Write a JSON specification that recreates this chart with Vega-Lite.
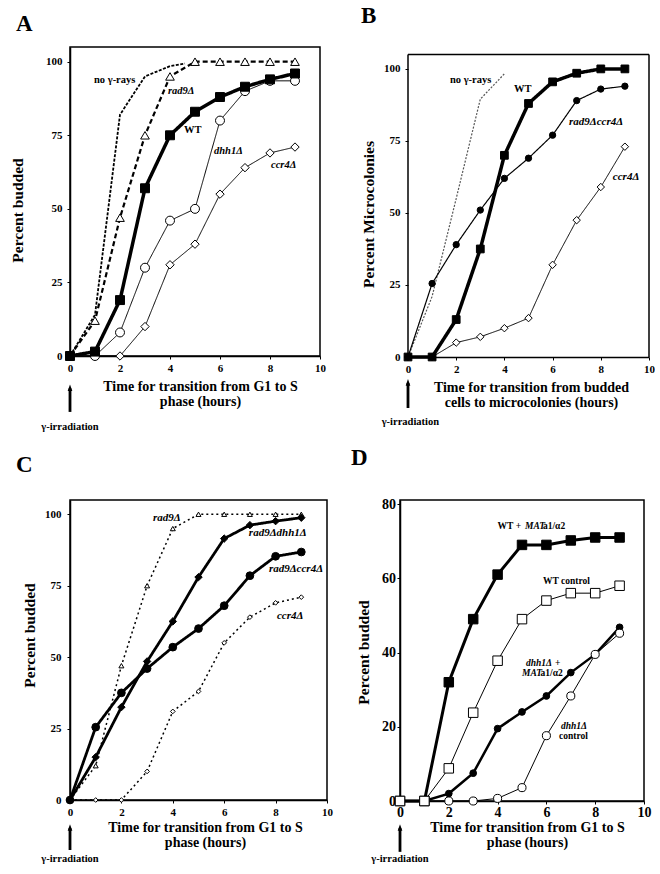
{
  "$schema": "https://vega.github.io/schema/vega-lite/v6.json",
  "background": "white",
  "padding": {"left": 9, "top": 5, "right": 0, "bottom": 0},
  "datasets": {
    "series": [
      {"panel":"A","series":"no γ-rays","t":0,"v":0},{"panel":"A","series":"no γ-rays","t":1,"v":14},{"panel":"A","series":"no γ-rays","t":2,"v":82},{"panel":"A","series":"no γ-rays","t":3,"v":95},{"panel":"A","series":"no γ-rays","t":4,"v":98.5},{"panel":"A","series":"no γ-rays","t":4.6,"v":99.4},
      {"panel":"A","series":"rad9Δ","t":0,"v":0},{"panel":"A","series":"rad9Δ","t":1,"v":12},{"panel":"A","series":"rad9Δ","t":2,"v":47},{"panel":"A","series":"rad9Δ","t":3,"v":75},{"panel":"A","series":"rad9Δ","t":4,"v":95},{"panel":"A","series":"rad9Δ","t":5,"v":100},{"panel":"A","series":"rad9Δ","t":6,"v":100},{"panel":"A","series":"rad9Δ","t":7,"v":100},{"panel":"A","series":"rad9Δ","t":8,"v":100},{"panel":"A","series":"rad9Δ","t":9,"v":100},
      {"panel":"A","series":"ccr4Δ","t":0,"v":0},{"panel":"A","series":"ccr4Δ","t":1,"v":0},{"panel":"A","series":"ccr4Δ","t":2,"v":0},{"panel":"A","series":"ccr4Δ","t":3,"v":10},{"panel":"A","series":"ccr4Δ","t":4,"v":31},{"panel":"A","series":"ccr4Δ","t":5,"v":38},{"panel":"A","series":"ccr4Δ","t":6,"v":55},{"panel":"A","series":"ccr4Δ","t":7,"v":64},{"panel":"A","series":"ccr4Δ","t":8,"v":69},{"panel":"A","series":"ccr4Δ","t":9,"v":71},
      {"panel":"A","series":"dhh1Δ","t":0,"v":0},{"panel":"A","series":"dhh1Δ","t":1,"v":0},{"panel":"A","series":"dhh1Δ","t":2,"v":8},{"panel":"A","series":"dhh1Δ","t":3,"v":30},{"panel":"A","series":"dhh1Δ","t":4,"v":46},{"panel":"A","series":"dhh1Δ","t":5,"v":50},{"panel":"A","series":"dhh1Δ","t":6,"v":80},{"panel":"A","series":"dhh1Δ","t":7,"v":90},{"panel":"A","series":"dhh1Δ","t":8,"v":93.5},{"panel":"A","series":"dhh1Δ","t":9,"v":93.5},
      {"panel":"A","series":"WT","t":0,"v":0},{"panel":"A","series":"WT","t":1,"v":1.5},{"panel":"A","series":"WT","t":2,"v":19},{"panel":"A","series":"WT","t":3,"v":57},{"panel":"A","series":"WT","t":4,"v":75},{"panel":"A","series":"WT","t":5,"v":83},{"panel":"A","series":"WT","t":6,"v":88},{"panel":"A","series":"WT","t":7,"v":91.5},{"panel":"A","series":"WT","t":8,"v":94},{"panel":"A","series":"WT","t":9,"v":96},
      {"panel":"B","series":"no γ-rays","t":0,"v":0},{"panel":"B","series":"no γ-rays","t":1,"v":21},{"panel":"B","series":"no γ-rays","t":2,"v":55},{"panel":"B","series":"no γ-rays","t":3,"v":89.5},{"panel":"B","series":"no γ-rays","t":4,"v":98.3},
      {"panel":"B","series":"ccr4Δ","t":0,"v":0},{"panel":"B","series":"ccr4Δ","t":1,"v":0},{"panel":"B","series":"ccr4Δ","t":2,"v":5},{"panel":"B","series":"ccr4Δ","t":3,"v":7},{"panel":"B","series":"ccr4Δ","t":4,"v":10},{"panel":"B","series":"ccr4Δ","t":5,"v":13.5},{"panel":"B","series":"ccr4Δ","t":6,"v":32},{"panel":"B","series":"ccr4Δ","t":7,"v":47.5},{"panel":"B","series":"ccr4Δ","t":8,"v":59},{"panel":"B","series":"ccr4Δ","t":9,"v":73},
      {"panel":"B","series":"rad9Δccr4Δ","t":0,"v":0},{"panel":"B","series":"rad9Δccr4Δ","t":1,"v":25.5},{"panel":"B","series":"rad9Δccr4Δ","t":2,"v":39},{"panel":"B","series":"rad9Δccr4Δ","t":3,"v":51},{"panel":"B","series":"rad9Δccr4Δ","t":4,"v":62},{"panel":"B","series":"rad9Δccr4Δ","t":5,"v":69},{"panel":"B","series":"rad9Δccr4Δ","t":6,"v":77},{"panel":"B","series":"rad9Δccr4Δ","t":7,"v":89},{"panel":"B","series":"rad9Δccr4Δ","t":8,"v":93},{"panel":"B","series":"rad9Δccr4Δ","t":9,"v":94},
      {"panel":"B","series":"WT","t":0,"v":0},{"panel":"B","series":"WT","t":1,"v":0},{"panel":"B","series":"WT","t":2,"v":13},{"panel":"B","series":"WT","t":3,"v":37.5},{"panel":"B","series":"WT","t":4,"v":70},{"panel":"B","series":"WT","t":5,"v":88},{"panel":"B","series":"WT","t":6,"v":95.5},{"panel":"B","series":"WT","t":7,"v":98.5},{"panel":"B","series":"WT","t":8,"v":100},{"panel":"B","series":"WT","t":9,"v":100},
      {"panel":"C","series":"rad9Δ","t":0,"v":0},{"panel":"C","series":"rad9Δ","t":1,"v":12},{"panel":"C","series":"rad9Δ","t":2,"v":47},{"panel":"C","series":"rad9Δ","t":3,"v":75},{"panel":"C","series":"rad9Δ","t":4,"v":95},{"panel":"C","series":"rad9Δ","t":5,"v":100},{"panel":"C","series":"rad9Δ","t":6,"v":100},{"panel":"C","series":"rad9Δ","t":7,"v":100},{"panel":"C","series":"rad9Δ","t":8,"v":100},{"panel":"C","series":"rad9Δ","t":9,"v":100},
      {"panel":"C","series":"ccr4Δ","t":0,"v":0},{"panel":"C","series":"ccr4Δ","t":1,"v":0},{"panel":"C","series":"ccr4Δ","t":2,"v":0},{"panel":"C","series":"ccr4Δ","t":3,"v":10},{"panel":"C","series":"ccr4Δ","t":4,"v":31},{"panel":"C","series":"ccr4Δ","t":5,"v":38},{"panel":"C","series":"ccr4Δ","t":6,"v":55},{"panel":"C","series":"ccr4Δ","t":7,"v":64},{"panel":"C","series":"ccr4Δ","t":8,"v":69},{"panel":"C","series":"ccr4Δ","t":9,"v":71},
      {"panel":"C","series":"rad9Δdhh1Δ","t":0,"v":0},{"panel":"C","series":"rad9Δdhh1Δ","t":1,"v":15},{"panel":"C","series":"rad9Δdhh1Δ","t":2,"v":32.5},{"panel":"C","series":"rad9Δdhh1Δ","t":3,"v":48.5},{"panel":"C","series":"rad9Δdhh1Δ","t":4,"v":62.5},{"panel":"C","series":"rad9Δdhh1Δ","t":5,"v":78},{"panel":"C","series":"rad9Δdhh1Δ","t":6,"v":91.5},{"panel":"C","series":"rad9Δdhh1Δ","t":7,"v":96.2},{"panel":"C","series":"rad9Δdhh1Δ","t":8,"v":97.6},{"panel":"C","series":"rad9Δdhh1Δ","t":9,"v":98.8},
      {"panel":"C","series":"rad9Δccr4Δ","t":0,"v":0},{"panel":"C","series":"rad9Δccr4Δ","t":1,"v":25.5},{"panel":"C","series":"rad9Δccr4Δ","t":2,"v":37.5},{"panel":"C","series":"rad9Δccr4Δ","t":3,"v":46},{"panel":"C","series":"rad9Δccr4Δ","t":4,"v":53.5},{"panel":"C","series":"rad9Δccr4Δ","t":5,"v":60},{"panel":"C","series":"rad9Δccr4Δ","t":6,"v":68},{"panel":"C","series":"rad9Δccr4Δ","t":7,"v":78.5},{"panel":"C","series":"rad9Δccr4Δ","t":8,"v":85.3},{"panel":"C","series":"rad9Δccr4Δ","t":9,"v":86.8},
      {"panel":"D","series":"WT + MATa1/α2","t":0,"v":0},{"panel":"D","series":"WT + MATa1/α2","t":1,"v":0},{"panel":"D","series":"WT + MATa1/α2","t":2,"v":32},{"panel":"D","series":"WT + MATa1/α2","t":3,"v":49},{"panel":"D","series":"WT + MATa1/α2","t":4,"v":61},{"panel":"D","series":"WT + MATa1/α2","t":5,"v":69},{"panel":"D","series":"WT + MATa1/α2","t":6,"v":69},{"panel":"D","series":"WT + MATa1/α2","t":7,"v":70.2},{"panel":"D","series":"WT + MATa1/α2","t":8,"v":71},{"panel":"D","series":"WT + MATa1/α2","t":9,"v":71},
      {"panel":"D","series":"dhh1Δ + MATa1/α2","t":0,"v":0},{"panel":"D","series":"dhh1Δ + MATa1/α2","t":1,"v":0},{"panel":"D","series":"dhh1Δ + MATa1/α2","t":2,"v":2},{"panel":"D","series":"dhh1Δ + MATa1/α2","t":3,"v":7.5},{"panel":"D","series":"dhh1Δ + MATa1/α2","t":4,"v":19.5},{"panel":"D","series":"dhh1Δ + MATa1/α2","t":5,"v":24},{"panel":"D","series":"dhh1Δ + MATa1/α2","t":6,"v":28.3},{"panel":"D","series":"dhh1Δ + MATa1/α2","t":7,"v":34.6},{"panel":"D","series":"dhh1Δ + MATa1/α2","t":8,"v":39.5},{"panel":"D","series":"dhh1Δ + MATa1/α2","t":9,"v":46.8},
      {"panel":"D","series":"dhh1Δ control","t":0,"v":0},{"panel":"D","series":"dhh1Δ control","t":1,"v":0},{"panel":"D","series":"dhh1Δ control","t":2,"v":0},{"panel":"D","series":"dhh1Δ control","t":3,"v":0},{"panel":"D","series":"dhh1Δ control","t":4,"v":0.7},{"panel":"D","series":"dhh1Δ control","t":5,"v":3.6},{"panel":"D","series":"dhh1Δ control","t":6,"v":17.6},{"panel":"D","series":"dhh1Δ control","t":7,"v":28.3},{"panel":"D","series":"dhh1Δ control","t":8,"v":39.5},{"panel":"D","series":"dhh1Δ control","t":9,"v":45.2},
      {"panel":"D","series":"WT control","t":0,"v":0},{"panel":"D","series":"WT control","t":1,"v":0},{"panel":"D","series":"WT control","t":2,"v":8.8},{"panel":"D","series":"WT control","t":3,"v":23.8},{"panel":"D","series":"WT control","t":4,"v":37.8},{"panel":"D","series":"WT control","t":5,"v":49},{"panel":"D","series":"WT control","t":6,"v":54},{"panel":"D","series":"WT control","t":7,"v":56},{"panel":"D","series":"WT control","t":8,"v":56},{"panel":"D","series":"WT control","t":9,"v":58}
    ],
    "labels": [
      {"panel":"A","text":"no γ-rays","t":0.96,"v":93.8,"kind":"plain"},
      {"panel":"A","text":"rad9Δ","t":3.92,"v":90,"kind":"gene"},
      {"panel":"A","text":"WT","t":4.56,"v":76.7,"kind":"plain"},
      {"panel":"A","text":"dhh1Δ","t":5.76,"v":69.7,"kind":"gene"},
      {"panel":"A","text":"ccr4Δ","t":8.04,"v":65,"kind":"gene"},
      {"panel":"A","text":"γ-irradiation","t":0,"v":-24,"kind":"note"},
      {"panel":"B","text":"no γ-rays","t":1.74,"v":96.2,"kind":"plain"},
      {"panel":"B","text":"WT","t":4.4,"v":93,"kind":"plain"},
      {"panel":"B","text":"rad9Δccr4Δ","t":6.68,"v":81.4,"kind":"gene"},
      {"panel":"B","text":"ccr4Δ","t":8.5,"v":62.6,"kind":"gene"},
      {"panel":"B","text":"γ-irradiation","t":0.1,"v":-22.6,"kind":"note"},
      {"panel":"C","text":"rad9Δ","t":3.23,"v":98.8,"kind":"gene"},
      {"panel":"C","text":"rad9Δdhh1Δ","t":6.96,"v":93.5,"kind":"gene"},
      {"panel":"C","text":"rad9Δccr4Δ","t":7.74,"v":81,"kind":"gene"},
      {"panel":"C","text":"ccr4Δ","t":8.05,"v":64.3,"kind":"gene"},
      {"panel":"C","text":"γ-irradiation","t":0,"v":-20.6,"kind":"note"},
      {"panel":"D","text":"WT +","t":4.0,"v":74.1,"kind":"plain"},
      {"panel":"D","text":"MAT","t":5.12,"v":74.1,"kind":"gene"},
      {"panel":"D","text":"a1/α2","t":5.86,"v":74.1,"kind":"plain"},
      {"panel":"D","text":"WT control","t":5.86,"v":59.4,"kind":"plain"},
      {"panel":"D","text":"dhh1Δ","t":5.16,"v":37.3,"kind":"gene"},
      {"panel":"D","text":"+","t":6.35,"v":37.3,"kind":"plain"},
      {"panel":"D","text":"MAT","t":5.0,"v":34.6,"kind":"gene"},
      {"panel":"D","text":"a1/α2","t":5.76,"v":34.6,"kind":"plain"},
      {"panel":"D","text":"dhh1Δ","t":6.6,"v":20.2,"kind":"gene"},
      {"panel":"D","text":"control","t":6.52,"v":17.5,"kind":"plain"},
      {"panel":"D","text":"γ-irradiation","t":0,"v":-15.6,"kind":"note"}
    ]
  },
  "spacing": 13,
  "resolve": {"scale": {"shape": "independent", "fill": "independent", "size": "independent", "strokeDash": "independent", "strokeWidth": "independent", "stroke": "independent"}},
  "vconcat": [
    {
      "spacing": 34,
      "resolve": {"scale": {"shape": "independent", "fill": "independent", "size": "independent", "strokeDash": "independent", "strokeWidth": "independent", "stroke": "independent"}},
      "hconcat": [
        {
          "width": 250, "height": 309,
          "title": {"text": "A", "dx": -54, "offset": 11.5},
          "layer": [
            {"data": {"name": "series"}, "transform": [{"filter": "datum.panel === 'A'"}],
             "mark": {"type": "line", "color": "black"},
             "encoding": {
               "x": {"field": "t", "type": "quantitative", "scale": {"domain": [0, 10], "nice": false, "zero": false},
                     "axis": {"title": ["Time for transition from G1 to S", "phase (hours)"], "values": [0,2,4,6,8,10], "titleX": 130, "titleY": 23, "titleBaseline": "top", "labelPadding": 3}},
               "y": {"field": "v", "type": "quantitative", "scale": {"domain": [0, 105], "nice": false},
                     "axis": {"title": "Percent budded", "values": [0,25,50,75,100], "titleX": -53, "titleY": 163, "titleBaseline": "middle", "labelPadding": 5}},
               "detail": {"field": "series"},
               "strokeDash": {"field": "series", "type": "nominal", "scale": {"domain": ["no γ-rays","rad9Δ","ccr4Δ","dhh1Δ","WT"], "range": [[3,1.5],[5,3],[1,0],[1,0],[1,0]]}, "legend": null},
               "strokeWidth": {"field": "series", "type": "nominal", "scale": {"type": "ordinal", "domain": ["no γ-rays","rad9Δ","ccr4Δ","dhh1Δ","WT"], "range": [1.8,2.2,1,1,3.5]}, "legend": null}
             }},
            {"data": {"name": "series"}, "transform": [{"filter": "datum.panel === 'A' && datum.series !== 'no γ-rays'"}],
             "mark": {"type": "point", "filled": true, "stroke": "black", "strokeWidth": 1, "opacity": 1},
             "encoding": {
               "x": {"field": "t", "type": "quantitative"},
               "y": {"field": "v", "type": "quantitative"},
               "shape": {"field": "series", "type": "nominal", "scale": {"domain": ["rad9Δ","ccr4Δ","dhh1Δ","WT"], "range": ["triangle-up","diamond","circle","square"]}, "legend": null},
               "fill": {"field": "series", "type": "nominal", "scale": {"domain": ["rad9Δ","ccr4Δ","dhh1Δ","WT"], "range": ["white","white","white","black"]}, "legend": null},
               "size": {"field": "series", "type": "nominal", "scale": {"type": "ordinal", "domain": ["rad9Δ","ccr4Δ","dhh1Δ","WT"], "range": [75,70,80,80]}, "legend": null}
             }},
            {"data": {"name": "labels"}, "transform": [{"filter": "datum.panel === 'A' && datum.kind === 'gene'"}],
             "mark": {"type": "text", "align": "left", "baseline": "middle", "fontStyle": "italic", "fontWeight": "bold", "fontSize": 10.5},
             "encoding": {"x": {"field": "t", "type": "quantitative"}, "y": {"field": "v", "type": "quantitative"}, "text": {"field": "text"}}},
            {"data": {"name": "labels"}, "transform": [{"filter": "datum.panel === 'A' && datum.kind === 'plain'"}],
             "mark": {"type": "text", "align": "left", "baseline": "middle", "fontWeight": "bold", "fontSize": 10.5},
             "encoding": {"x": {"field": "t", "type": "quantitative"}, "y": {"field": "v", "type": "quantitative"}, "text": {"field": "text"}}},
            {"data": {"name": "labels"}, "transform": [{"filter": "datum.panel === 'A' && datum.kind === 'note'"}],
             "mark": {"type": "text", "align": "center", "baseline": "middle", "fontWeight": "bold", "fontSize": 10.5},
             "encoding": {"x": {"field": "t", "type": "quantitative"}, "y": {"field": "v", "type": "quantitative"}, "text": {"field": "text"}}},
            {"data": {"values": [{}]}, "mark": {"type": "rule", "color": "black", "strokeWidth": 2.8},
             "encoding": {"x": {"datum": 0, "type": "quantitative"}, "y": {"datum": -11, "type": "quantitative"}, "y2": {"datum": -19}}},
            {"data": {"values": [{}]}, "mark": {"type": "point", "shape": "M0,-1L0.6,0.7L-0.6,0.7Z", "filled": true, "color": "black", "opacity": 1, "size": 60},
             "encoding": {"x": {"datum": 0, "type": "quantitative"}, "y": {"datum": -11, "type": "quantitative"}}}
          ]
        },
        {
          "width": 241, "height": 310,
          "view": {"stroke": null},
          "title": {"text": "B", "dx": -47, "offset": 19},
          "layer": [
            {"data": {"name": "series"}, "transform": [{"filter": "datum.panel === 'B'"}],
             "mark": {"type": "line"},
             "encoding": {
               "x": {"field": "t", "type": "quantitative", "scale": {"domain": [0, 10], "nice": false, "zero": false},
                     "axis": {"title": ["Time for transition from budded", "cells to microcolonies (hours)"], "values": [0,2,4,6,8,10], "titleX": 123, "titleY": 23, "titleBaseline": "top", "labelPadding": 3}},
               "y": {"field": "v", "type": "quantitative", "scale": {"domain": [0, 107.6], "nice": false},
                     "axis": {"title": "Percent Microcolonies", "values": [0,25,50,75,100], "domain": false, "titleX": -40, "titleY": 167, "titleBaseline": "middle", "labelPadding": 5}},
               "detail": {"field": "series"},
               "stroke": {"field": "series", "type": "nominal", "scale": {"domain": ["no γ-rays","ccr4Δ","rad9Δccr4Δ","WT"], "range": ["#555555","black","black","black"]}, "legend": null},
               "strokeDash": {"field": "series", "type": "nominal", "scale": {"domain": ["no γ-rays","ccr4Δ","rad9Δccr4Δ","WT"], "range": [[2,1.5],[1,0],[1,0],[1,0]]}, "legend": null},
               "strokeWidth": {"field": "series", "type": "nominal", "scale": {"type": "ordinal", "domain": ["no γ-rays","ccr4Δ","rad9Δccr4Δ","WT"], "range": [1.2,1,1.2,3.5]}, "legend": null}
             }},
            {"data": {"values": [{}]}, "mark": {"type": "rule", "color": "black", "strokeWidth": 1.5},
             "encoding": {"x": {"datum": 0, "type": "quantitative"}, "x2": {"datum": 10}, "y": {"datum": 105, "type": "quantitative"}}},
            {"data": {"values": [{}]}, "mark": {"type": "rule", "color": "black", "strokeWidth": 1.5},
             "encoding": {"x": {"datum": 10, "type": "quantitative"}, "y": {"datum": 0, "type": "quantitative"}, "y2": {"datum": 105}}},
            {"data": {"values": [{}]}, "mark": {"type": "rule", "color": "black", "strokeWidth": 1.5},
             "encoding": {"x": {"datum": 0, "type": "quantitative"}, "y": {"datum": 0, "type": "quantitative"}, "y2": {"datum": 105}}},
            {"data": {"name": "series"}, "transform": [{"filter": "datum.panel === 'B' && datum.series !== 'no γ-rays'"}],
             "mark": {"type": "point", "filled": true, "stroke": "black", "strokeWidth": 1, "opacity": 1},
             "encoding": {
               "x": {"field": "t", "type": "quantitative"},
               "y": {"field": "v", "type": "quantitative"},
               "shape": {"field": "series", "type": "nominal", "scale": {"domain": ["ccr4Δ","rad9Δccr4Δ","WT"], "range": ["diamond","circle","square"]}, "legend": null},
               "fill": {"field": "series", "type": "nominal", "scale": {"domain": ["ccr4Δ","rad9Δccr4Δ","WT"], "range": ["white","black","black"]}, "legend": null},
               "size": {"field": "series", "type": "nominal", "scale": {"type": "ordinal", "domain": ["ccr4Δ","rad9Δccr4Δ","WT"], "range": [55,40,60]}, "legend": null}
             }},
            {"data": {"name": "labels"}, "transform": [{"filter": "datum.panel === 'B' && datum.kind === 'gene'"}],
             "mark": {"type": "text", "align": "left", "baseline": "middle", "fontStyle": "italic", "fontWeight": "bold", "fontSize": 11},
             "encoding": {"x": {"field": "t", "type": "quantitative"}, "y": {"field": "v", "type": "quantitative"}, "text": {"field": "text"}}},
            {"data": {"name": "labels"}, "transform": [{"filter": "datum.panel === 'B' && datum.kind === 'plain'"}],
             "mark": {"type": "text", "align": "left", "baseline": "middle", "fontWeight": "bold", "fontSize": 10.5},
             "encoding": {"x": {"field": "t", "type": "quantitative"}, "y": {"field": "v", "type": "quantitative"}, "text": {"field": "text"}}},
            {"data": {"name": "labels"}, "transform": [{"filter": "datum.panel === 'B' && datum.kind === 'note'"}],
             "mark": {"type": "text", "align": "center", "baseline": "middle", "fontWeight": "bold", "fontSize": 10.5},
             "encoding": {"x": {"field": "t", "type": "quantitative"}, "y": {"field": "v", "type": "quantitative"}, "text": {"field": "text"}}},
            {"data": {"values": [{}]}, "mark": {"type": "rule", "color": "black", "strokeWidth": 2.8},
             "encoding": {"x": {"datum": 0, "type": "quantitative"}, "y": {"datum": -9, "type": "quantitative"}, "y2": {"datum": -17.7}}},
            {"data": {"values": [{}]}, "mark": {"type": "point", "shape": "M0,-1L0.6,0.7L-0.6,0.7Z", "filled": true, "color": "black", "opacity": 1, "size": 60},
             "encoding": {"x": {"datum": 0, "type": "quantitative"}, "y": {"datum": -9, "type": "quantitative"}}}
          ]
        }
      ]
    },
    {
      "spacing": 16,
      "resolve": {"scale": {"shape": "independent", "fill": "independent", "size": "independent", "strokeDash": "independent", "strokeWidth": "independent", "stroke": "independent"}},
      "hconcat": [
        {
          "width": 257, "height": 300,
          "title": {"text": "C", "dx": -54, "offset": 23},
          "layer": [
            {"data": {"name": "series"}, "transform": [{"filter": "datum.panel === 'C'"}],
             "mark": {"type": "line", "color": "black"},
             "encoding": {
               "x": {"field": "t", "type": "quantitative", "scale": {"domain": [0, 10], "nice": false, "zero": false},
                     "axis": {"title": ["Time for transition from G1 to S", "phase (hours)"], "values": [0,2,4,6,8,10], "titleX": 135, "titleY": 20, "titleBaseline": "top", "labelPadding": 3}},
               "y": {"field": "v", "type": "quantitative", "scale": {"domain": [0, 105], "nice": false},
                     "axis": {"title": "Percent budded", "values": [0,25,50,75,100], "titleX": -41, "titleY": 135, "titleBaseline": "middle", "labelPadding": 6}},
               "detail": {"field": "series"},
               "strokeDash": {"field": "series", "type": "nominal", "scale": {"domain": ["rad9Δ","ccr4Δ","rad9Δdhh1Δ","rad9Δccr4Δ"], "range": [[2,3],[2,3],[1,0],[1,0]]}, "legend": null},
               "strokeWidth": {"field": "series", "type": "nominal", "scale": {"type": "ordinal", "domain": ["rad9Δ","ccr4Δ","rad9Δdhh1Δ","rad9Δccr4Δ"], "range": [1.5,1.5,2.8,2.8]}, "legend": null}
             }},
            {"data": {"name": "series"}, "transform": [{"filter": "datum.panel === 'C'"}],
             "mark": {"type": "point", "filled": true, "stroke": "black", "strokeWidth": 1, "opacity": 1},
             "encoding": {
               "x": {"field": "t", "type": "quantitative"},
               "y": {"field": "v", "type": "quantitative"},
               "shape": {"field": "series", "type": "nominal", "scale": {"domain": ["rad9Δ","ccr4Δ","rad9Δdhh1Δ","rad9Δccr4Δ"], "range": ["triangle-up","diamond","diamond","circle"]}, "legend": null},
               "fill": {"field": "series", "type": "nominal", "scale": {"domain": ["rad9Δ","ccr4Δ","rad9Δdhh1Δ","rad9Δccr4Δ"], "range": ["white","white","black","black"]}, "legend": null},
               "size": {"field": "series", "type": "nominal", "scale": {"type": "ordinal", "domain": ["rad9Δ","ccr4Δ","rad9Δdhh1Δ","rad9Δccr4Δ"], "range": [25,22,55,60]}, "legend": null}
             }},
            {"data": {"name": "labels"}, "transform": [{"filter": "datum.panel === 'C' && datum.kind === 'gene'"}],
             "mark": {"type": "text", "align": "left", "baseline": "middle", "fontStyle": "italic", "fontWeight": "bold", "fontSize": 11},
             "encoding": {"x": {"field": "t", "type": "quantitative"}, "y": {"field": "v", "type": "quantitative"}, "text": {"field": "text"}}},
            {"data": {"name": "labels"}, "transform": [{"filter": "datum.panel === 'C' && datum.kind === 'note'"}],
             "mark": {"type": "text", "align": "center", "baseline": "middle", "fontWeight": "bold", "fontSize": 10.5},
             "encoding": {"x": {"field": "t", "type": "quantitative"}, "y": {"field": "v", "type": "quantitative"}, "text": {"field": "text"}}},
            {"data": {"values": [{}]}, "mark": {"type": "rule", "color": "black", "strokeWidth": 2.8},
             "encoding": {"x": {"datum": 0, "type": "quantitative"}, "y": {"datum": -9.8, "type": "quantitative"}, "y2": {"datum": -17.5}}},
            {"data": {"values": [{}]}, "mark": {"type": "point", "shape": "M0,-1L0.6,0.7L-0.6,0.7Z", "filled": true, "color": "black", "opacity": 1, "size": 60},
             "encoding": {"x": {"datum": 0, "type": "quantitative"}, "y": {"datum": -9.8, "type": "quantitative"}}}
          ]
        },
        {
          "width": 244, "height": 301,
          "title": {"text": "D", "dx": -49, "offset": 27},
          "layer": [
            {"data": {"name": "series"}, "transform": [{"filter": "datum.panel === 'D'"}],
             "mark": {"type": "line", "color": "black"},
             "encoding": {
               "x": {"field": "t", "type": "quantitative", "scale": {"domain": [0, 10], "nice": false, "zero": false},
                     "axis": {"title": ["Time for transition from G1 to S", "phase (hours)"], "values": [0,2,4,6,8,10], "titleX": 127, "titleY": 19, "titleBaseline": "top", "labelPadding": 1.5, "labelFontSize": 14}},
               "y": {"field": "v", "type": "quantitative", "scale": {"domain": [0, 81.1], "nice": false},
                     "axis": {"title": "Percent budded", "values": [0,20,40,60,80], "titleX": -37, "titleY": 152, "titleBaseline": "middle", "labelPadding": 1.5, "labelFontSize": 14}},
               "detail": {"field": "series"},
               "strokeWidth": {"field": "series", "type": "nominal", "scale": {"type": "ordinal", "domain": ["WT + MATa1/α2","dhh1Δ + MATa1/α2","dhh1Δ control","WT control"], "range": [3,2.5,1,1]}, "legend": null}
             }},
            {"data": {"name": "series"}, "transform": [{"filter": "datum.panel === 'D'"}],
             "mark": {"type": "point", "filled": true, "stroke": "black", "strokeWidth": 1, "opacity": 1},
             "encoding": {
               "x": {"field": "t", "type": "quantitative"},
               "y": {"field": "v", "type": "quantitative"},
               "shape": {"field": "series", "type": "nominal", "scale": {"domain": ["WT + MATa1/α2","dhh1Δ + MATa1/α2","dhh1Δ control","WT control"], "range": ["square","circle","circle","square"]}, "legend": null},
               "fill": {"field": "series", "type": "nominal", "scale": {"domain": ["WT + MATa1/α2","dhh1Δ + MATa1/α2","dhh1Δ control","WT control"], "range": ["black","black","white","white"]}, "legend": null},
               "size": {"field": "series", "type": "nominal", "scale": {"type": "ordinal", "domain": ["WT + MATa1/α2","dhh1Δ + MATa1/α2","dhh1Δ control","WT control"], "range": [90,45,65,90]}, "legend": null}
             }},
            {"data": {"name": "labels"}, "transform": [{"filter": "datum.panel === 'D' && datum.kind === 'gene'"}],
             "mark": {"type": "text", "align": "left", "baseline": "middle", "fontStyle": "italic", "fontWeight": "bold", "fontSize": 9.5},
             "encoding": {"x": {"field": "t", "type": "quantitative"}, "y": {"field": "v", "type": "quantitative"}, "text": {"field": "text"}}},
            {"data": {"name": "labels"}, "transform": [{"filter": "datum.panel === 'D' && datum.kind === 'plain'"}],
             "mark": {"type": "text", "align": "left", "baseline": "middle", "fontWeight": "bold", "fontSize": 9.5},
             "encoding": {"x": {"field": "t", "type": "quantitative"}, "y": {"field": "v", "type": "quantitative"}, "text": {"field": "text"}}},
            {"data": {"name": "labels"}, "transform": [{"filter": "datum.panel === 'D' && datum.kind === 'note'"}],
             "mark": {"type": "text", "align": "center", "baseline": "middle", "fontWeight": "bold", "fontSize": 10.5},
             "encoding": {"x": {"field": "t", "type": "quantitative"}, "y": {"field": "v", "type": "quantitative"}, "text": {"field": "text"}}},
            {"data": {"values": [{}]}, "mark": {"type": "rule", "color": "black", "strokeWidth": 2.8},
             "encoding": {"x": {"datum": 0, "type": "quantitative"}, "y": {"datum": -7.3, "type": "quantitative"}, "y2": {"datum": -13.7}}},
            {"data": {"values": [{}]}, "mark": {"type": "point", "shape": "M0,-1L0.6,0.7L-0.6,0.7Z", "filled": true, "color": "black", "opacity": 1, "size": 60},
             "encoding": {"x": {"datum": 0, "type": "quantitative"}, "y": {"datum": -7.3, "type": "quantitative"}}}
          ]
        }
      ]
    }
  ],
  "config": {
    "font": "Liberation Serif",
    "view": {"stroke": "black", "strokeWidth": 1.5},
    "axis": {"grid": false, "labelFlush": false, "domainColor": "black", "domainWidth": 1.5, "tickColor": "black", "tickSize": 3, "labelColor": "black", "titleColor": "black", "labelFontWeight": "bold", "titleFontWeight": "bold", "labelFontSize": 11, "titleFontSize": 14, "titleLineHeight": 15, "labelFont": "Liberation Serif", "titleFont": "Liberation Serif"},
    "axisY": {"titleFontSize": 15.5},
    "title": {"fontSize": 23, "fontWeight": "bold", "anchor": "start", "frame": "group", "color": "black", "font": "Liberation Serif"},
    "text": {"fontWeight": "bold", "color": "black", "font": "Liberation Serif"}
  }
}
